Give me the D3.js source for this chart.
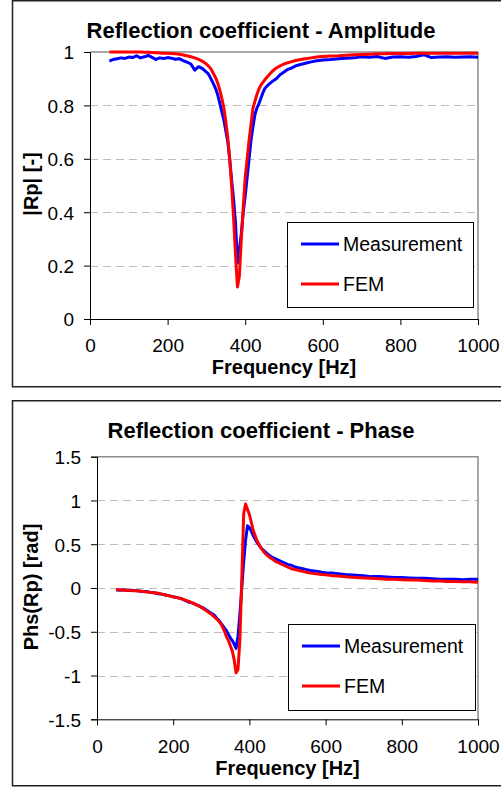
<!DOCTYPE html>
<html>
<head>
<meta charset="utf-8">
<script src="https://cdn.jsdelivr.net/npm/d3@7"></script>
<style>
  body { margin: 0; background: #fff; }
  svg { display: block; font-family: 'Liberation Sans', Arial, sans-serif; }
  .tick text { font-size: 19px; fill: #000; }
  .grid line { stroke: #bdbdbd; stroke-dasharray: 8 5; }
</style>
</head>
<body>
<div id="chart"></div>
<script>
// frequency samples shared by all four curves [Hz]
const freq = [
  50, 60, 70, 80, 90, 100, 110, 120, 130, 140, 150, 160, 170, 180, 190, 200, 210, 220, 230, 240, 250, 260, 270, 280, 290, 300,
  305, 310, 315, 320, 325, 330, 335, 340, 345, 350, 355, 360, 365, 370, 375, 380, 385, 390, 395, 400, 405, 410, 415, 420, 425, 430, 435, 440, 445, 450,
  460, 470, 480, 490, 500, 510, 520, 530, 540, 550, 560, 570, 580, 590, 600,
  620, 640, 660, 680, 700, 720, 740, 760, 780, 800, 820, 840, 860, 880, 900, 920, 940, 960, 980, 1000
]

const ampMeas = [
  0.966, 0.972, 0.975, 0.978, 0.976, 0.981, 0.979, 0.986, 0.978, 0.982, 0.987, 0.98, 0.972, 0.978, 0.976, 0.979, 0.977, 0.973, 0.975, 0.968, 0.962, 0.955, 0.932, 0.945, 0.938, 0.925,
  0.918, 0.905, 0.89, 0.875, 0.858, 0.835, 0.805, 0.775, 0.745, 0.705, 0.665, 0.6, 0.52, 0.45, 0.36, 0.21, 0.26, 0.32, 0.4, 0.46, 0.53, 0.6, 0.67, 0.72, 0.765, 0.79, 0.805, 0.825, 0.845, 0.862,
  0.878, 0.89, 0.9, 0.915, 0.925, 0.935, 0.94, 0.948, 0.952, 0.956, 0.96, 0.963, 0.966, 0.968, 0.97,
  0.972, 0.975, 0.977, 0.978, 0.982, 0.98, 0.983, 0.976, 0.981, 0.982, 0.98, 0.983, 0.99, 0.979, 0.981, 0.982, 0.98, 0.981, 0.982, 0.98
]

const ampFem = [
  1, 1, 1, 1, 1, 1, 1, 1, 1, 0.999, 0.999, 0.998, 0.997, 0.996, 0.995, 0.995, 0.994, 0.993, 0.992, 0.989, 0.986, 0.982, 0.978, 0.972, 0.965, 0.955,
  0.948, 0.94, 0.928, 0.914, 0.9, 0.88, 0.855, 0.825, 0.79, 0.74, 0.68, 0.6, 0.5, 0.38, 0.24, 0.12, 0.16, 0.3, 0.42, 0.53, 0.6, 0.67, 0.73, 0.79, 0.815, 0.84, 0.86, 0.875, 0.885, 0.895,
  0.912, 0.928, 0.94, 0.948, 0.955, 0.96, 0.964, 0.968, 0.971, 0.974, 0.976, 0.978, 0.98, 0.982, 0.983,
  0.985, 0.986, 0.988, 0.99, 0.991, 0.992, 0.993, 0.993, 0.994, 0.994, 0.994, 0.995, 0.995, 0.995, 0.995, 0.995, 0.995, 0.995, 0.995, 0.995
]

const phaseMeas = [
  -0.02, -0.025, -0.02, -0.03, -0.025, -0.03, -0.035, -0.04, -0.04, -0.05, -0.055, -0.065, -0.07, -0.08, -0.09, -0.1, -0.11, -0.12, -0.14, -0.16, -0.17, -0.19, -0.21, -0.23, -0.26, -0.29,
  -0.3, -0.32, -0.35, -0.37, -0.4, -0.43, -0.46, -0.49, -0.53, -0.57, -0.6, -0.64, -0.69, -0.55, -0.3, 0, 0.3, 0.55, 0.71, 0.69, 0.65, 0.6, 0.56, 0.52, 0.49, 0.46, 0.44, 0.42, 0.4, 0.38,
  0.35, 0.33, 0.31, 0.29, 0.27, 0.26, 0.24, 0.23, 0.22, 0.21, 0.2, 0.195, 0.19, 0.18, 0.175,
  0.17, 0.16, 0.15, 0.145, 0.14, 0.13, 0.13, 0.125, 0.12, 0.12, 0.115, 0.11, 0.11, 0.105, 0.1, 0.1, 0.1, 0.095, 0.1, 0.1
]

const phaseFem = [
  -0.02, -0.02, -0.025, -0.025, -0.03, -0.03, -0.035, -0.04, -0.045, -0.05, -0.055, -0.06, -0.07, -0.08, -0.09, -0.1, -0.11, -0.12, -0.135, -0.15, -0.17, -0.19, -0.21, -0.24, -0.27, -0.3,
  -0.32, -0.34, -0.36, -0.38, -0.41, -0.45, -0.5, -0.56, -0.6, -0.66, -0.72, -0.82, -0.97, -0.93, -0.6, 0.1, 0.85, 0.96, 0.9, 0.84, 0.75, 0.66, 0.6, 0.54, 0.5, 0.46, 0.43, 0.4, 0.38, 0.36,
  0.33, 0.3, 0.28, 0.26, 0.24, 0.22, 0.21, 0.2, 0.19, 0.18, 0.17, 0.165, 0.16, 0.155, 0.15,
  0.14, 0.135, 0.125, 0.12, 0.115, 0.11, 0.105, 0.1, 0.1, 0.095, 0.09, 0.09, 0.085, 0.08, 0.08, 0.075, 0.075, 0.07, 0.07, 0.065
]

const seriesNames = ['Measurement', 'FEM']
const seriesColors = ['#0000ff', '#ff0000']
const freqTicks = [0, 200, 400, 600, 800, 1000]
const ampTicks = [0, 0.2, 0.4, 0.6, 0.8, 1]
const phaseTicks = [-1.5, -1, -0.5, 0, 0.5, 1, 1.5]

const svg = d3.select('#chart')
  .append('svg')
  .attr('width', 501)
  .attr('height', 787)

drawChart({
  top: 0, bottom: 386,
  title: 'Reflection coefficient - Amplitude', titleY: 38,
  yTitle: '|Rp| [-]', yTitleY: 184,
  xRange: [90, 478], yRange: [319, 52], yDomain: [0, 1], yTicks: ampTicks,
  series: [ampMeas, ampFem],
  legend: { x: 287, y: 222, w: 186, h: 85 },
  xTitleY: 374
})

drawChart({
  top: 400, bottom: 785,
  title: 'Reflection coefficient - Phase', titleY: 438,
  yTitle: 'Phs(Rp) [rad]', yTitleY: 587,
  xRange: [97, 478], yRange: [719.3, 456.7], yDomain: [-1.5, 1.5], yTicks: phaseTicks,
  series: [phaseMeas, phaseFem],
  legend: { x: 288, y: 624, w: 187, h: 86 },
  xTitleY: 775
})

function drawChart(c) {
  const g = svg.append('g')

  // outer frame (right side runs off the page like in the source)
  g.append('rect')
    .attr('x', 12.5).attr('y', c.top + 0.75)
    .attr('width', 500).attr('height', c.bottom - c.top)
    .attr('fill', 'none').attr('stroke', '#222').attr('stroke-width', 1.5)

  const x = d3.scaleLinear().domain([0, 1000]).range(c.xRange)
  const y = d3.scaleLinear().domain(c.yDomain).range(c.yRange)
  const [x0, x1] = c.xRange
  const [yb, yt] = c.yRange

  // dashed grid
  g.append('g')
    .attr('class', 'grid')
    .selectAll('line')
    .data(c.yTicks.slice(1, -1))
    .enter()
    .append('line')
    .attr('x1', x0).attr('x2', x1)
    .attr('y1', d => Math.round(y(d)) + 0.5).attr('y2', d => Math.round(y(d)) + 0.5)

  // grey top/right plot border
  g.append('path')
    .attr('d', `M${x0},${yt}H${x1}V${yb}`)
    .attr('fill', 'none').attr('stroke', '#8c8c8c').attr('stroke-width', 1.5)

  const fmt = d => String(d)
  g.append('g')
    .attr('transform', `translate(${x0},0)`)
    .call(d3.axisLeft(y).tickValues(c.yTicks).tickFormat(fmt).tickSize(6).tickPadding(10))
    .call(a => a.selectAll('.tick text').attr('dy', '0.36em'))
  g.append('g')
    .attr('transform', `translate(0,${yb})`)
    .call(d3.axisBottom(x).tickValues(freqTicks).tickFormat(fmt).tickSize(6).tickPadding(14))
  g.selectAll('.domain').attr('stroke', '#000')

  const line = vals => d3.line()
    .x((d, i) => x(freq[i]))
    .y(d => y(d))(vals)

  c.series.forEach((vals, i) => {
    g.append('path')
      .attr('d', line(vals))
      .attr('fill', 'none')
      .attr('stroke', seriesColors[i])
      .attr('stroke-width', 3)
      .attr('stroke-linejoin', 'round')
  })

  // titles
  g.append('text')
    .attr('x', 261).attr('y', c.titleY)
    .attr('text-anchor', 'middle')
    .attr('font-size', 22).attr('font-weight', 'bold')
    .text(c.title)
  g.append('text')
    .attr('x', (x0 + x1) / 2).attr('y', c.xTitleY)
    .attr('text-anchor', 'middle')
    .attr('font-size', 20).attr('font-weight', 'bold')
    .text('Frequency [Hz]')
  g.append('text')
    .attr('transform', `translate(38,${c.yTitleY}) rotate(-90)`)
    .attr('text-anchor', 'middle')
    .attr('font-size', 20).attr('font-weight', 'bold')
    .text(c.yTitle)

  // legend
  const L = c.legend
  const lg = g.append('g').attr('transform', `translate(${L.x},${L.y})`)
  lg.append('rect')
    .attr('x', 0.5).attr('y', 0.5).attr('width', L.w).attr('height', L.h)
    .attr('fill', '#fff').attr('stroke', '#000')
  seriesNames.forEach((name, i) => {
    const ly = 22 + i * 40
    lg.append('line')
      .attr('x1', 14).attr('x2', 52).attr('y1', ly).attr('y2', ly)
      .attr('stroke', seriesColors[i]).attr('stroke-width', 3)
    lg.append('text')
      .attr('x', 56).attr('y', ly + 6.5)
      .attr('font-size', 19.5)
      .text(name)
  })
}
</script>
</body>
</html>
